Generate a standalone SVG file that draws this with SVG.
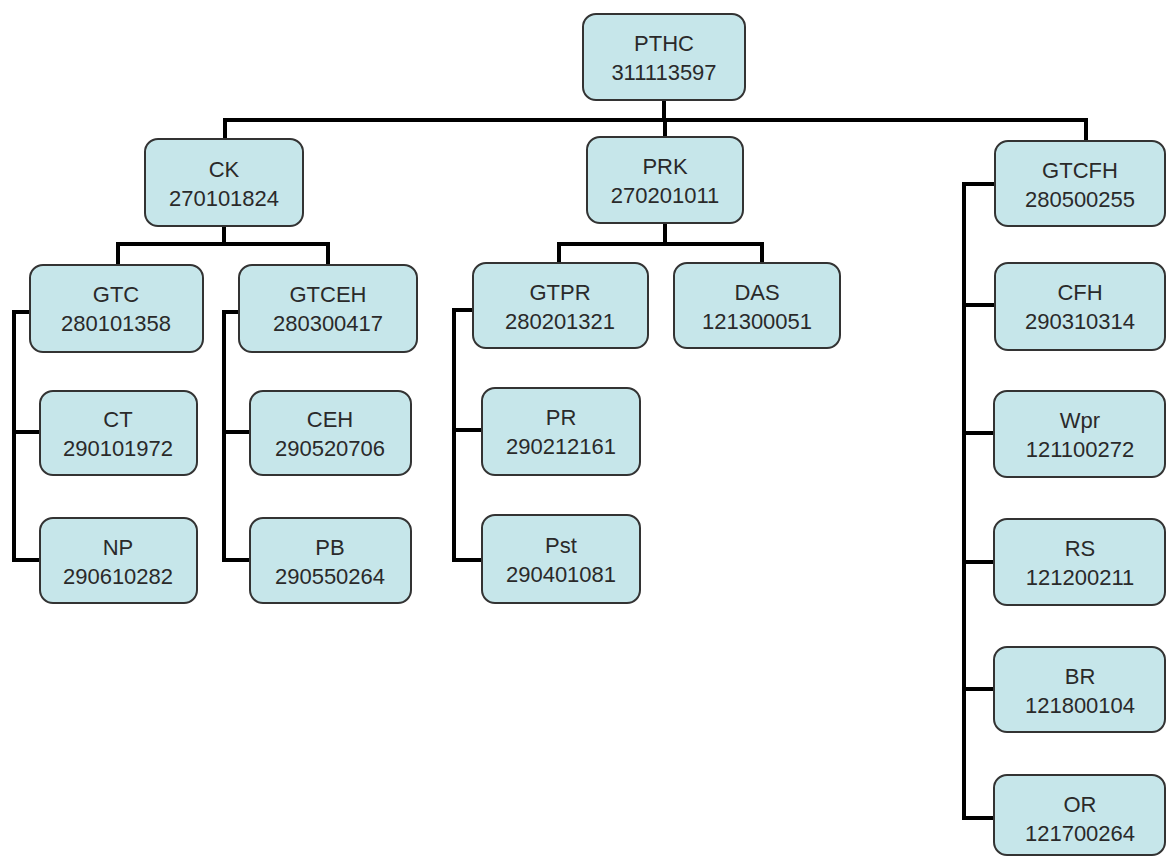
<svg xmlns="http://www.w3.org/2000/svg" width="1167" height="857" viewBox="0 0 1167 857">
<style>
.box{fill:#c6e6ea;stroke:#333;stroke-width:2}
.t{font-family:"Liberation Sans",Arial,sans-serif;font-size:22px;fill:#2a2a2a;text-anchor:middle}
.c{fill:none;stroke:#000;stroke-width:4;stroke-linecap:square;stroke-linejoin:miter}
</style>
<rect width="1167" height="857" fill="#fff"/>
<g id="connectors" class="c">
<polyline points="664,100 664,120"/>
<polyline points="225,139 225,120 1086,120 1086,141"/>
<polyline points="665,120 665,137"/>
<polyline points="224,226 224,244"/>
<polyline points="118,265 118,244 328,244 328,265"/>
<polyline points="30,312 14,312 14,560 40,560"/>
<polyline points="14,432 40,432"/>
<polyline points="239,312 224,312 224,560 250,560"/>
<polyline points="224,432 250,432"/>
<polyline points="665,223 665,244"/>
<polyline points="559,263 559,244 762,244 762,263"/>
<polyline points="473,310 454,310 454,560 482,560"/>
<polyline points="454,430 482,430"/>
<polyline points="995,184 964,184 964,818 994,818"/>
<polyline points="964,305 995,305"/>
<polyline points="964,433 994,433"/>
<polyline points="964,562 994,562"/>
<polyline points="964,689 994,689"/>
</g>
<g id="PTHC"><rect class="box" x="583" y="14" width="162" height="86" rx="13"/><text class="t" x="664" y="51">PTHC</text><text class="t" x="664" y="80">311113597</text></g>
<g id="CK"><rect class="box" x="145" y="139" width="158" height="87" rx="13"/><text class="t" x="224" y="177">CK</text><text class="t" x="224" y="206">270101824</text></g>
<g id="PRK"><rect class="box" x="587" y="137" width="156" height="86" rx="13"/><text class="t" x="665" y="174">PRK</text><text class="t" x="665" y="203">270201011</text></g>
<g id="GTCFH"><rect class="box" x="995" y="141" width="170" height="85" rx="13"/><text class="t" x="1080" y="178">GTCFH</text><text class="t" x="1080" y="207">280500255</text></g>
<g id="GTC"><rect class="box" x="30" y="265" width="173" height="87" rx="13"/><text class="t" x="116" y="302">GTC</text><text class="t" x="116" y="331">280101358</text></g>
<g id="GTCEH"><rect class="box" x="239" y="265" width="178" height="87" rx="13"/><text class="t" x="328" y="302">GTCEH</text><text class="t" x="328" y="331">280300417</text></g>
<g id="GTPR"><rect class="box" x="473" y="263" width="175" height="85" rx="13"/><text class="t" x="560" y="300">GTPR</text><text class="t" x="560" y="329">280201321</text></g>
<g id="DAS"><rect class="box" x="674" y="263" width="166" height="85" rx="13"/><text class="t" x="757" y="300">DAS</text><text class="t" x="757" y="329">121300051</text></g>
<g id="CT"><rect class="box" x="40" y="391" width="157" height="84" rx="13"/><text class="t" x="118" y="427">CT</text><text class="t" x="118" y="456">290101972</text></g>
<g id="NP"><rect class="box" x="40" y="518" width="157" height="85" rx="13"/><text class="t" x="118" y="555">NP</text><text class="t" x="118" y="584">290610282</text></g>
<g id="CEH"><rect class="box" x="250" y="391" width="161" height="84" rx="13"/><text class="t" x="330" y="427">CEH</text><text class="t" x="330" y="456">290520706</text></g>
<g id="PB"><rect class="box" x="250" y="518" width="161" height="85" rx="13"/><text class="t" x="330" y="555">PB</text><text class="t" x="330" y="584">290550264</text></g>
<g id="PR"><rect class="box" x="482" y="388" width="158" height="87" rx="13"/><text class="t" x="561" y="425">PR</text><text class="t" x="561" y="454">290212161</text></g>
<g id="Pst"><rect class="box" x="482" y="515" width="158" height="88" rx="13"/><text class="t" x="561" y="553">Pst</text><text class="t" x="561" y="582">290401081</text></g>
<g id="CFH"><rect class="box" x="995" y="263" width="170" height="87" rx="13"/><text class="t" x="1080" y="300">CFH</text><text class="t" x="1080" y="329">290310314</text></g>
<g id="Wpr"><rect class="box" x="994" y="391" width="171" height="86" rx="13"/><text class="t" x="1080" y="428">Wpr</text><text class="t" x="1080" y="457">121100272</text></g>
<g id="RS"><rect class="box" x="994" y="519" width="171" height="86" rx="13"/><text class="t" x="1080" y="556">RS</text><text class="t" x="1080" y="585">121200211</text></g>
<g id="BR"><rect class="box" x="994" y="647" width="171" height="85" rx="13"/><text class="t" x="1080" y="684">BR</text><text class="t" x="1080" y="713">121800104</text></g>
<g id="OR"><rect class="box" x="994" y="775" width="171" height="80" rx="13"/><text class="t" x="1080" y="812">OR</text><text class="t" x="1080" y="841">121700264</text></g>
</svg>
